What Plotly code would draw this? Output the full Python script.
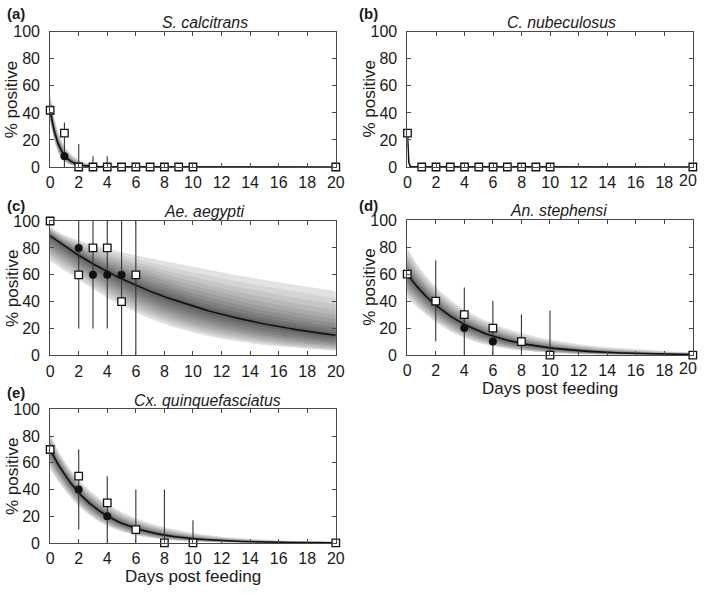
import numpy as np
import plotly.graph_objects as go

# ---------------- data ----------------
panel_labels = ["(a)", "(b)", "(c)", "(d)", "(e)"]
species = ["S. calcitrans", "C. nubeculosus", "Ae. aegypti", "An. stephensi", "Cx. quinquefasciatus"]

# open squares
sq_x_a = [0, 1, 2, 3, 4, 5, 6, 7, 8, 9, 10, 20]
sq_y_a = [42, 25, 0, 0, 0, 0, 0, 0, 0, 0, 0, 0]
sq_x_b = [0, 1, 2, 3, 4, 5, 6, 7, 8, 9, 10, 20]
sq_y_b = [25, 0, 0, 0, 0, 0, 0, 0, 0, 0, 0, 0]
sq_x_c = [0, 2, 3, 4, 5, 6]
sq_y_c = [100, 60, 80, 80, 40, 60]
sq_x_d = [0, 2, 4, 6, 8, 10, 20]
sq_y_d = [60, 40, 30, 20, 10, 0, 0]
sq_x_e = [0, 2, 4, 6, 8, 10, 20]
sq_y_e = [70, 50, 30, 10, 0, 0, 0]

# filled circles
ci_x_a = [1]
ci_y_a = [8]
ci_x_b = []
ci_y_b = []
ci_x_c = [2, 3, 4, 5]
ci_y_c = [80, 60, 60, 60]
ci_x_d = [4, 6]
ci_y_d = [20, 10]
ci_x_e = [2, 4]
ci_y_e = [40, 20]

# error bars (x, lower, upper)
eb_x_a = [1, 2, 3, 4]
eb_lo_a = [0, 0, 0, 0]
eb_hi_a = [33, 17, 8, 8]
eb_x_b = []
eb_lo_b = []
eb_hi_b = []
eb_x_c = [2, 3, 4, 5, 6]
eb_lo_c = [20, 20, 20, 0, 0]
eb_hi_c = [100, 100, 100, 100, 100]
eb_x_d = [2, 4, 6, 8, 10]
eb_lo_d = [10, 0, 0, 0, 0]
eb_hi_d = [70, 50, 40, 30, 33]
eb_x_e = [2, 4, 6, 8, 10]
eb_lo_e = [10, 0, 0, 0, 0]
eb_hi_e = [70, 50, 40, 40, 17]

# fitted exponential decay: % = A * exp(-k * day)
fit_A = [42, 25, 89, 60, 70]
fit_k = [1.59, 20.0, 0.089, 0.243, 0.311]
# credible band spread in log space: sqrt(a^2 + (b*day)^2)
band_up_a = [0.27, 0.10, 0.075, 0.28, 0.155]
band_up_b = [0.55, 0.5, 0.058, 0.071, 0.085]
band_dn_a = [0.25, 0.10, 0.24, 0.35, 0.24]
band_dn_b = [0.75, 0.5, 0.0725, 0.115, 0.10]
band_levels = [1.0, 0.9, 0.8, 0.7, 0.6, 0.5, 0.4, 0.3, 0.2, 0.1]
band_grays = [226, 212, 198, 184, 170, 156, 142, 128, 114, 100]

x_ticks = [0, 2, 4, 6, 8, 10, 12, 14, 16, 18, 20]
x_tick_text = ["0", "2", "4", "6", "8", "10", "12", "14", "16", "18", "20"]
y_ticks = [0, 20, 40, 60, 80, 100]

sq_x = [sq_x_a, sq_x_b, sq_x_c, sq_x_d, sq_x_e]
sq_y = [sq_y_a, sq_y_b, sq_y_c, sq_y_d, sq_y_e]
ci_x = [ci_x_a, ci_x_b, ci_x_c, ci_x_d, ci_x_e]
ci_y = [ci_y_a, ci_y_b, ci_y_c, ci_y_d, ci_y_e]
eb_x = [eb_x_a, eb_x_b, eb_x_c, eb_x_d, eb_x_e]
eb_lo = [eb_lo_a, eb_lo_b, eb_lo_c, eb_lo_d, eb_lo_e]
eb_hi = [eb_hi_a, eb_hi_b, eb_hi_c, eb_hi_d, eb_hi_e]

# ---------------- layout geometry (pixels) ----------------
W, H = 709, 594
boxes = [
    (47, 338, 24.5, 163.7),
    (411, 701.7, 24.5, 163.7),
    (47, 338, 219.3, 357.7),
    (410.7, 701.7, 218.3, 357.3),
    (47, 338, 413.3, 550.7),
]
title_dx = [12, 12, 12, 9, 15]
label_pos = [(2, 6), (361, 6), (2, 203), (361, 203), (2, 396)]
ytitle_x = [8, 372, 8, 372, 8]
xtitle_panels = [3, 4]
right_panels = [1, 3]  # last x label pulled inside the figure

FONT = "Liberation Sans, Arial, Helvetica, sans-serif"
TXT = "#1a1a1a"
AXC = "#4a4a4a"
TICKSIZE = 16

fig = go.Figure()
day = np.linspace(0, 20, 2001)

for i in range(5):
    xa = "x" if i == 0 else f"x{i+1}"
    ya = "y" if i == 0 else f"y{i+1}"
    med = fit_A[i] * np.exp(-fit_k[i] * day)
    sd_up = np.sqrt(band_up_a[i] ** 2 + (band_up_b[i] * day) ** 2)
    sd_dn = np.sqrt(band_dn_a[i] ** 2 + (band_dn_b[i] * day) ** 2)
    for lev, g in zip(band_levels, band_grays):
        up = np.minimum(med * np.exp(lev * sd_up), 130)
        dn = med * np.exp(-lev * sd_dn)
        fig.add_trace(go.Scatter(
            x=np.concatenate([day, day[::-1]]),
            y=np.concatenate([up, dn[::-1]]),
            fill="toself", fillcolor=f"rgb({g},{g},{g})",
            line=dict(width=0), mode="lines", hoverinfo="skip",
            showlegend=False, xaxis=xa, yaxis=ya))
    fig.add_trace(go.Scatter(x=day, y=med, mode="lines",
                             line=dict(color="#111111", width=1.6),
                             showlegend=False, xaxis=xa, yaxis=ya))
    # error bars
    ex, ey = [], []
    for xx, lo, hi in zip(eb_x[i], eb_lo[i], eb_hi[i]):
        ex += [xx, xx, None]
        ey += [lo, hi, None]
    if ex:
        fig.add_trace(go.Scatter(x=ex, y=ey, mode="lines",
                                 line=dict(color="#333333", width=1.1),
                                 showlegend=False, xaxis=xa, yaxis=ya))
    if ci_x[i]:
        fig.add_trace(go.Scatter(x=ci_x[i], y=ci_y[i], mode="markers",
                                 marker=dict(symbol="circle", size=8, color="#111111",
                                             line=dict(width=0)),
                                 cliponaxis=False, showlegend=False, xaxis=xa, yaxis=ya))
    fig.add_trace(go.Scatter(x=sq_x[i], y=sq_y[i], mode="markers",
                             marker=dict(symbol="square", size=7.5, color="white",
                                         line=dict(width=1.3, color="#111111")),
                             cliponaxis=False, showlegend=False, xaxis=xa, yaxis=ya))

layout = dict(
    width=W, height=H, margin=dict(l=0, r=0, t=0, b=0),
    paper_bgcolor="white", plot_bgcolor="white",
    font=dict(family=FONT, color=TXT, size=15),
    showlegend=False,
)
annotations = []
for i, (x0, x1, y0, y1) in enumerate(boxes):
    xk = "xaxis" if i == 0 else f"xaxis{i+1}"
    yk = "yaxis" if i == 0 else f"yaxis{i+1}"
    yref = "y" if i == 0 else f"y{i+1}"
    xref = "x" if i == 0 else f"x{i+1}"
    common = dict(showline=True, linecolor=AXC, linewidth=1, mirror="ticks",
                  ticks="inside", ticklen=4, tickcolor=AXC, tickwidth=1,
                  showgrid=False, zeroline=False, fixedrange=True,
                  tickfont=dict(size=TICKSIZE, color=TXT, family=FONT))
    ttext = list(x_tick_text)
    if i in right_panels:
        ttext[-1] = ""
        annotations.append(dict(text=x_tick_text[-1], x=696.5 / W, y=1 - (y1 + 13.5) / H,
                                xref="paper", yref="paper", showarrow=False,
                                font=dict(size=TICKSIZE, color=TXT, family=FONT),
                                xanchor="center", yanchor="middle"))
    layout[xk] = dict(domain=[x0 / W, x1 / W], range=[0, 20], tickvals=x_ticks,
                      ticktext=ttext, anchor=yref, ticklabelstandoff=1, **common)
    layout[yk] = dict(domain=[1 - y1 / H, 1 - y0 / H], range=[0, 100], tickvals=y_ticks,
                      anchor=xref, ticklabelstandoff=6, **common)
    # title
    annotations.append(dict(text=f"<i>{species[i]}</i>",
                            x=((x0 + x1) / 2 + title_dx[i]) / W, y=1 - (y0 - 9.5) / H,
                            xref="paper", yref="paper", showarrow=False,
                            font=dict(size=15.8, color=TXT, family=FONT),
                            xanchor="center", yanchor="middle"))
    # panel label
    lx, ly = label_pos[i]
    annotations.append(dict(text=f"<b>{panel_labels[i]}</b>", x=lx / W, y=1 - ly / H,
                            xref="paper", yref="paper", showarrow=False,
                            font=dict(size=15, color=TXT, family=FONT),
                            xanchor="left", yanchor="middle", borderpad=0))
    # y title
    annotations.append(dict(text="% positive", x=ytitle_x[i] / W, y=1 - (y0 + y1) / 2 / H,
                            xref="paper", yref="paper", showarrow=False, textangle=-90,
                            font=dict(size=17, color=TXT, family=FONT),
                            xanchor="center", yanchor="middle"))
    if i in xtitle_panels:
        annotations.append(dict(text="Days post feeding", x=(x0 + x1) / 2 / W,
                                y=1 - (y1 + 34.5) / H,
                                xref="paper", yref="paper", showarrow=False,
                                font=dict(size=17, color=TXT, family=FONT),
                                xanchor="center", yanchor="middle"))
layout["annotations"] = annotations
fig.update_layout(**layout)
fig.write_html("out.html", config={"displayModeBar": False},
               post_script="document.body.style.margin='0';document.body.style.overflow='hidden';")
